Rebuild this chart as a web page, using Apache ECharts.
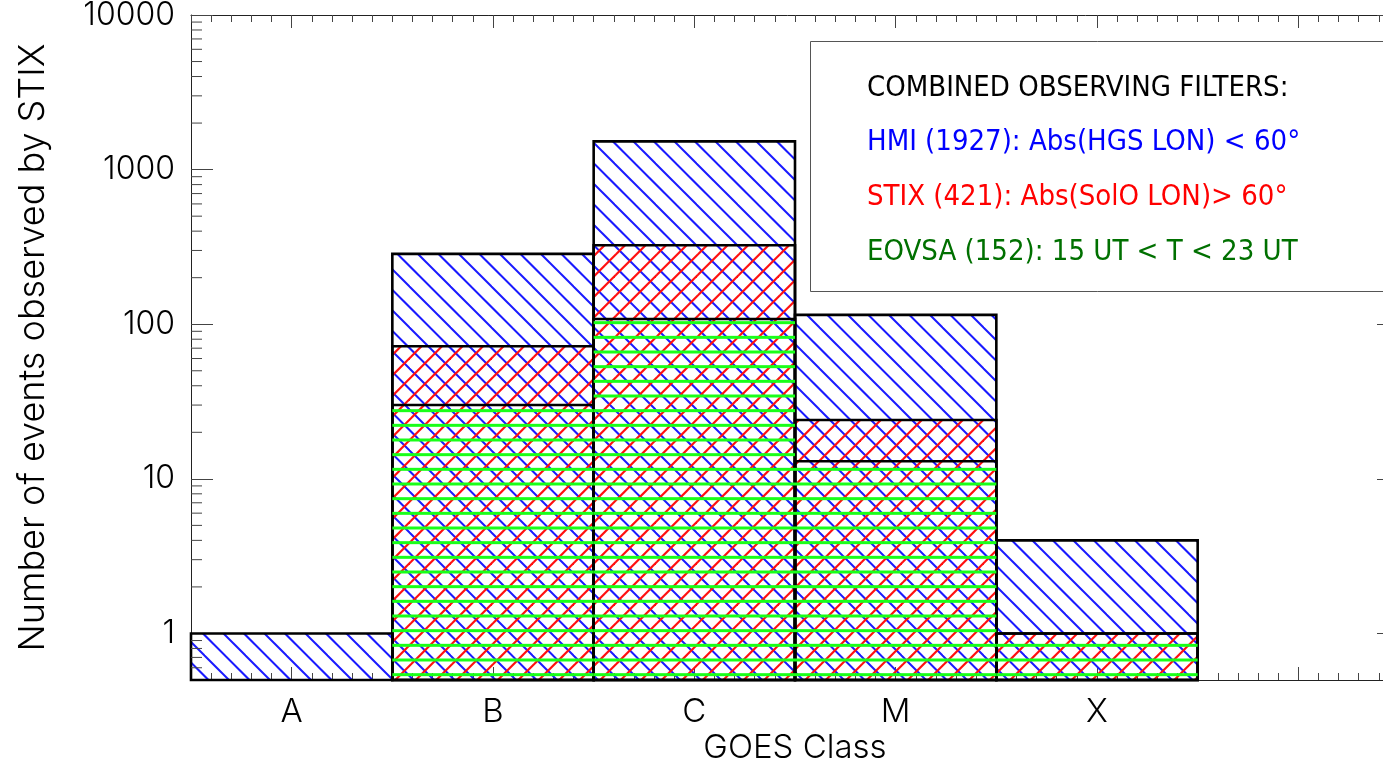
<!DOCTYPE html>
<html>
<head>
<meta charset="utf-8">
<title>STIX events by GOES class</title>
<script src="https://cdn.jsdelivr.net/npm/echarts@6/dist/echarts.min.js"></script>
<style>
  html, body { margin: 0; padding: 0; background: #fff; }
  #chart { width: 1383px; height: 763px; }
</style>
</head>
<body>
<div id="chart"></div>
<script>
// ---- data ----
const goesClasses = ['A', 'B', 'C', 'M', 'X'];
const hmiCounts   = [1, 285, 1522, 115, 4];
const stixCounts  = [0, 72, 324, 24, 1];
const eovsaCounts = [0, 30, 108, 13, 1];
const yTickValues = [1, 10, 100, 1000, 10000];
const minorMultipliers = [2, 3, 4, 5, 6, 7, 8, 9];
const belowOneTicks = [0.6, 0.7, 0.8, 0.9];
const legendLines = [
  { text: 'COMBINED OBSERVING FILTERS:', color: '#000000' },
  { text: 'HMI (1927): Abs(HGS LON) < 60\u00b0', color: '#0000ff' },
  { text: 'STIX (421): Abs(SolO LON)> 60\u00b0', color: '#ff0000' },
  { text: 'EOVSA (152): 15 UT < T < 23 UT', color: '#007000' }
];

// ---- axis ranges ----
const X_MIN = -0.5, X_MAX = 5.5;
const Y_MIN = 0.5, Y_MAX = 10000;

// minor log ticks: 0.6..0.9 then 2..9 in every decade
const yMinorTicks = belowOneTicks.slice();
yTickValues.slice(0, -1).forEach(d => minorMultipliers.forEach(m => yMinorTicks.push(d * m)));

// ---- layout ----
const PLOT = { left: 191, top: 15, width: 1208, height: 665 };
const UNIT = PLOT.width / (X_MAX - X_MIN);
const DECADE = PLOT.height / (Math.log10(Y_MAX) - Math.log10(Y_MIN));
const FONT = "Inter, 'DejaVu Sans', sans-serif";
const FONT_WEIGHT = 300;
const LEGEND_FONT = "'Liberation Sans Narrow', 'DejaVu Sans Condensed', 'DejaVu Sans', sans-serif";
const AXIS_COLOR = '#222';
const TICK_COLOR = '#444';

// ---- hatch fills ----
function diagonalHatch(color, width, dir, phase) {
  const p = 20.5, s = 41;
  const c = document.createElement('canvas');
  c.width = s; c.height = s;
  const g = c.getContext('2d');
  g.strokeStyle = color; g.lineWidth = width; g.lineCap = 'butt';
  for (let k = -4; k <= 4; k++) {
    const o = phase + k * p;
    g.beginPath();
    if (dir > 0) { g.moveTo(o - 10, -10); g.lineTo(o + s + 10, s + 10); }   // "\"
    else { g.moveTo(o - 10, s + 10); g.lineTo(o + s + 10, -10); }           // "/"
    g.stroke();
  }
  return { image: c, repeat: 'repeat' };
}
function horizontalHatch(color, width) {
  const h = 44, w = 8, step = h / 3;
  const c = document.createElement('canvas');
  c.width = w; c.height = h;
  const g = c.getContext('2d');
  g.strokeStyle = color; g.lineWidth = width;
  for (let k = -1; k <= 3; k++) {
    const y = k * step;
    g.beginPath(); g.moveTo(0, y); g.lineTo(w, y); g.stroke();
  }
  return { image: c, repeat: 'repeat' };
}
const blueHatch = diagonalHatch('#1a1aff', 2, 1, 0);
const redHatch = diagonalHatch('#ff1010', 2.2, -1, -11.2);
const greenHatch = horizontalHatch('#19ff19', 3);

// rectangle of a histogram bin from the bottom of the plot up to `top`
function binRect(api, xi, top) {
  const p0 = api.coord([xi - 0.5, top]);
  const p1 = api.coord([xi + 0.5, Y_MIN]);
  return { x: p0[0], y: p0[1], width: p1[0] - p0[0], height: p1[1] - p0[1] };
}

function hatchSeries(name, counts, fill, z) {
  return {
    type: 'custom', name: name, xAxisIndex: 0, yAxisIndex: 0, z: z, silent: true,
    data: counts.map((v, i) => [i, v]).filter(d => d[1] > 0),
    renderItem: (params, api) => ({
      type: 'rect',
      shape: binRect(api, api.value(0), api.value(1)),
      style: { fill: fill, stroke: null }
    })
  };
}

const outlineSeries = {
  type: 'custom', name: 'outlines', xAxisIndex: 0, yAxisIndex: 0, z: 5, silent: true,
  data: goesClasses.map((c, i) => [i, hmiCounts[i], stixCounts[i], eovsaCounts[i]]),
  renderItem: (params, api) => {
    const xi = api.value(0);
    const children = [];
    [1, 2, 3].forEach(d => {
      const v = api.value(d);
      if (v > Y_MIN) {
        children.push({
          type: 'rect', shape: binRect(api, xi, v),
          style: { fill: null, stroke: '#000', lineWidth: 2.6 }
        });
      }
    });
    return { type: 'group', children: children };
  }
};

const minorYTickSeries = {
  type: 'custom', name: 'minorYTicks', xAxisIndex: 0, yAxisIndex: 0, z: 8, silent: true,
  data: yMinorTicks.map(v => [0, v]),
  renderItem: (params, api) => {
    const v = api.value(1);
    const l = api.coord([X_MIN, v]);
    const r = api.coord([X_MAX, v]);
    const st = { stroke: TICK_COLOR, lineWidth: 1 };
    return {
      type: 'group', children: [
        { type: 'line', shape: { x1: l[0], y1: l[1], x2: l[0] + 11, y2: l[1] }, style: st },
        { type: 'line', shape: { x1: r[0], y1: r[1], x2: r[0] - 11, y2: r[1] }, style: st }
      ]
    };
  }
};

function minorXAxis(position) {
  return {
    gridIndex: 0, type: 'value', position: position, min: X_MIN, max: X_MAX, interval: 0.1,
    axisLine: { show: true, onZero: false, lineStyle: { color: AXIS_COLOR, width: 1 } },
    axisTick: { show: true, inside: true, length: 7, lineStyle: { color: TICK_COLOR, width: 1 } },
    axisLabel: { show: false }, splitLine: { show: false }
  };
}
function majorXAxis(position, withLabels) {
  return {
    gridIndex: 1, type: 'value', position: position, min: 0, max: goesClasses.length, interval: 1,
    axisLine: { show: false },
    axisTick: { show: true, inside: true, length: 13, lineStyle: { color: TICK_COLOR, width: 1 } },
    axisLabel: {
      show: withLabels, showMinLabel: true, showMaxLabel: true,
      formatter: v => goesClasses[Math.round(v)] || '',
      fontSize: 33, fontWeight: FONT_WEIGHT, color: '#000', margin: 16, fontFamily: FONT
    },
    splitLine: { show: false }
  };
}
function frameYAxis(position) {
  return {
    gridIndex: 0, type: 'log', logBase: 10, position: position, min: Y_MIN, max: Y_MAX,
    axisLine: { show: true, onZero: false, lineStyle: { color: AXIS_COLOR, width: 1 } },
    axisTick: { show: false }, axisLabel: { show: false }, splitLine: { show: false }
  };
}
function majorYAxis(position, withLabels) {
  return {
    gridIndex: 2, type: 'log', logBase: 10, position: position,
    min: yTickValues[0], max: yTickValues[yTickValues.length - 1],
    axisLine: { show: false },
    axisTick: { show: true, inside: true, length: 22, lineStyle: { color: TICK_COLOR, width: 1 } },
    axisLabel: {
      show: withLabels, showMinLabel: true, showMaxLabel: true,
      formatter: v => (yTickValues.indexOf(Math.round(v)) >= 0 ? String(Math.round(v)) : ''),
      fontSize: 32, fontWeight: FONT_WEIGHT, color: '#000', margin: 16, fontFamily: FONT
    },
    splitLine: { show: false }
  };
}

const decadesShown = Math.log10(yTickValues[yTickValues.length - 1]) - Math.log10(yTickValues[0]);

const option = {
  animation: false,
  backgroundColor: '#fff',
  grid: [
    { left: PLOT.left, top: PLOT.top, width: PLOT.width, height: PLOT.height, containLabel: false, outerBoundsMode: 'none' },
    { left: PLOT.left + (0 - X_MIN) * UNIT, top: PLOT.top, width: goesClasses.length * UNIT, height: PLOT.height, containLabel: false, outerBoundsMode: 'none' },
    { left: PLOT.left, top: PLOT.top, width: PLOT.width, height: decadesShown * DECADE, containLabel: false, outerBoundsMode: 'none' }
  ],
  xAxis: [
    Object.assign(minorXAxis('bottom'), {
      name: 'GOES Class', nameLocation: 'middle', nameGap: 52,
      nameTextStyle: { fontSize: 33, fontWeight: FONT_WEIGHT, color: '#000', fontFamily: FONT }
    }),
    minorXAxis('top'),
    majorXAxis('bottom', true),
    majorXAxis('top', false),
    { gridIndex: 2, type: 'value', show: false }
  ],
  yAxis: [
    Object.assign(frameYAxis('left'), {
      name: 'Number of events observed by STIX', nameLocation: 'middle', nameGap: 140, nameRotate: 90,
      nameTextStyle: { fontSize: 36, fontWeight: FONT_WEIGHT, color: '#000', fontFamily: FONT }
    }),
    frameYAxis('right'),
    { gridIndex: 1, type: 'value', show: false },
    majorYAxis('left', true),
    majorYAxis('right', false)
  ],
  graphic: [
    {
      type: 'rect', z: 10, silent: true,
      shape: { x: 810.5, y: 41.5, width: 700, height: 250 },
      style: { fill: '#fff', stroke: '#555', lineWidth: 1 }
    }
  ].concat(legendLines.map((l, i) => ({
    type: 'text', z: 11, silent: true,
    x: 867, y: 88 + i * 54.7,
    style: {
      text: l.text, fill: l.color, font: '29px ' + LEGEND_FONT,
      textAlign: 'left', textVerticalAlign: 'middle'
    }
  }))),
  series: [
    hatchSeries('HMI', hmiCounts, blueHatch, 2),
    hatchSeries('STIX', stixCounts, redHatch, 3),
    outlineSeries,
    hatchSeries('EOVSA', eovsaCounts, greenHatch, 6),
    minorYTickSeries
  ]
};

const chart = echarts.init(document.getElementById('chart'), null, { renderer: 'canvas' });
chart.setOption(option);
</script>
</body>
</html>
